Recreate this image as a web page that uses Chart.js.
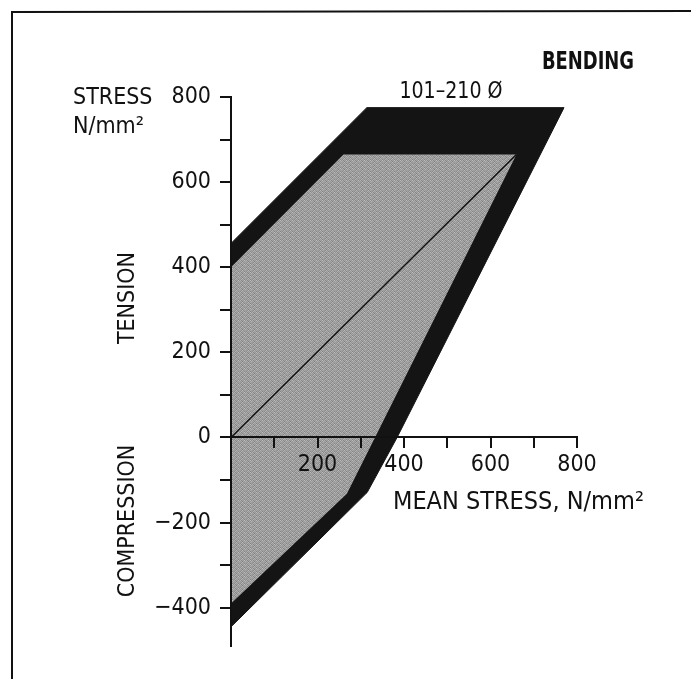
<!DOCTYPE html>
<html>
<head>
<meta charset="utf-8">
<script src="https://cdn.jsdelivr.net/npm/chart.js@4.4.1/dist/chart.umd.min.js"></script>
<style>
  body { margin: 0; background: #fff; }
  canvas { display: block; }
</style>
</head>
<body>
<canvas id="chart" width="691" height="679"></canvas>
<script>
// Outer (black) band, N/mm2
const outerX = [0, 314, 770, 384, 315, 0, 0];
const outerY = [456, 775, 775, 0, -129, -445, 456];
// Inner (grey) field
const innerX = [0, 260, 660, 333, 268, 0, 0];
const innerY = [400, 665, 665, 0, -132, -390, 400];
// Mean stress line
const diagX = [0, 660];
const diagY = [0, 665];

// tick marks every 100, labels every 200
const yTicks = [-400, -300, -200, -100, 0, 100, 200, 300, 400, 500, 600, 700, 800];
const yTickLabels = [800, 600, 400, 200, 0, -200, -400];
const xTicks = [0, 100, 200, 300, 400, 500, 600, 700, 800];
const xTickLabels = [200, 400, 600, 800];

const FONT = "'Liberation Sans Narrow', 'DejaVu Sans Condensed', 'Liberation Sans', sans-serif";

function pts(xs, ys) {
    return xs.map((x, i) => ({ x: x, y: ys[i] }));
}

// stippled grey fill like the print
function greyPattern() {
    let c = document.createElement("canvas");
    c.width = 6; c.height = 4;
    let g = c.getContext("2d");
    let shades = ["#b0b0b0", "#868686", "#a4a4a4", "#949494", "#bcbcbc", "#8e8e8e",
                  "#9a9a9a", "#aaaaaa", "#808080", "#a8a8a8", "#969696", "#b2b2b2",
                  "#a0a0a0", "#8a8a8a", "#b6b6b6", "#909090", "#a6a6a6", "#9c9c9c",
                  "#8c8c8c", "#b4b4b4", "#989898", "#acacac", "#848484", "#a2a2a2"];
    shades.forEach((s, i) => {
        g.fillStyle = s;
        g.fillRect(i % 6, Math.floor(i / 6), 1, 1);
    });
    return g.createPattern(c, "repeat");
}

function drawText(ctx, text, x, y, size, sx, weight, align) {
    ctx.save();
    ctx.font = (weight || "normal") + " " + size + "px " + FONT;
    ctx.textAlign = align || "left";
    ctx.translate(x, y);
    ctx.scale(sx, 1);
    ctx.fillText(text, 0, 0);
    ctx.restore();
}

const textPlugin = {
    id: "texts",
    afterDraw(chart) {
        let ctx = chart.ctx;
        ctx.save();
        // frame
        ctx.strokeStyle = "#111";
        ctx.lineWidth = 2;
        ctx.beginPath();
        ctx.moveTo(12, 679);
        ctx.lineTo(12, 12);
        ctx.lineTo(691, 11);
        ctx.stroke();

        ctx.fillStyle = "#111";
        ctx.textBaseline = "middle";

        drawText(ctx, "BENDING", 588, 63, 24, 0.83, "bold", "center");
        drawText(ctx, "101\u2013210 \u00D8", 451, 92, 23, 0.92, "normal", "center");
        drawText(ctx, "STRESS", 73, 98, 23, 1, "normal", "left");
        drawText(ctx, "N/mm\u00B2", 73, 127, 23, 1, "normal", "left");
        drawText(ctx, "MEAN STRESS, N/mm\u00B2", 393, 502, 25, 1, "normal", "left");

        ctx.font = "23px " + FONT;
        ctx.textAlign = "center";
        [["TENSION", 298], ["COMPRESSION", 521]].forEach(([t, y]) => {
            ctx.save();
            ctx.translate(128, y);
            ctx.rotate(-Math.PI / 2);
            ctx.fillText(t, 0, 0);
            ctx.restore();
        });
        ctx.restore();
    }
};

let ctx = document.getElementById("chart").getContext("2d");
new Chart(ctx, {
    type: "scatter",
    data: {
        datasets: [
            {
                label: "mean",
                order: 0,
                data: pts(diagX, diagY),
                showLine: true,
                fill: false,
                borderColor: "#111",
                borderWidth: 1.5,
                pointRadius: 0
            },
            {
                label: "inner",
                order: 1,
                data: pts(innerX, innerY),
                showLine: true,
                fill: "shape",
                backgroundColor: greyPattern(),
                borderColor: "rgba(0,0,0,0)",
                borderWidth: 0,
                pointRadius: 0,
                tension: 0
            },
            {
                label: "outer",
                order: 2,
                data: pts(outerX, outerY),
                showLine: true,
                fill: "shape",
                backgroundColor: "#141414",
                borderColor: "#141414",
                borderWidth: 1,
                pointRadius: 0,
                tension: 0
            }
        ]
    },
    options: {
        responsive: false,
        animation: false,
        events: [],
        layout: { padding: { top: 97, right: 114, bottom: 33, left: 0 } },
        plugins: {
            legend: { display: false },
            tooltip: { enabled: false }
        },
        scales: {
            x: {
                type: "linear",
                min: 0,
                max: 800,
                position: { y: 0 },
                border: { display: true, color: "#111", width: 2, z: 1 },
                grid: { drawOnChartArea: false, drawTicks: true, tickLength: 10, color: "#111", lineWidth: 2, z: 1 },
                afterBuildTicks: s => { s.ticks = xTicks.map(v => ({ value: v })); },
                ticks: {
                    z: 1,
                    color: "#111",
                    padding: 4,
                    maxRotation: 0,
                    autoSkip: false,
                    font: { family: FONT, size: 23 },
                    callback: v => xTickLabels.includes(v) ? String(v) : ""
                }
            },
            y: {
                type: "linear",
                min: -490,
                max: 800,
                border: { display: true, color: "#111", width: 2, z: 1 },
                grid: { drawOnChartArea: false, drawTicks: true, tickLength: 11, color: "#111", lineWidth: 2, z: 1 },
                afterBuildTicks: s => { s.ticks = yTicks.map(v => ({ value: v })); },
                ticks: {
                    z: 1,
                    color: "#111",
                    padding: 9,
                    autoSkip: false,
                    font: { family: FONT, size: 23 },
                    callback: v => yTickLabels.includes(v) ? String(v).replace("-", "\u2212") : ""
                },
                afterFit: s => { s.width = 231; }
            }
        }
    },
    plugins: [textPlugin]
});
</script>
</body>
</html>
